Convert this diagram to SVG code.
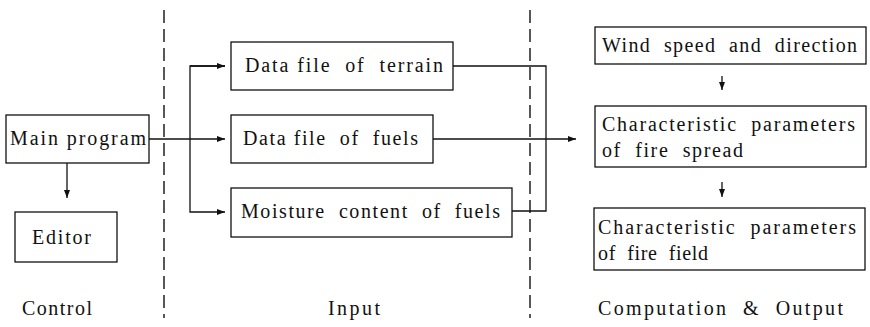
<svg xmlns="http://www.w3.org/2000/svg" width="870" height="327" viewBox="0 0 870 327">
<style>
.box{fill:#fff;stroke:#111;stroke-width:1.3}
.t{font-family:"Liberation Serif","DejaVu Serif",serif;font-size:20px;fill:#111;white-space:pre}
.ln{fill:none;stroke:#111;stroke-width:1.3}
.dash{fill:none;stroke:#111;stroke-width:1.4;stroke-dasharray:13 6}
</style>
<defs>
<marker id="ah" viewBox="0 0 8 6" refX="8" refY="3" markerWidth="8" markerHeight="6" markerUnits="userSpaceOnUse" orient="auto">
<path d="M0,0 L8,3 L0,6 z" fill="#111"/>
</marker>
</defs>
<rect width="870" height="327" fill="#fff"/>
<g id="dividers">
<line class="dash" x1="164" y1="10" x2="164" y2="318"/>
<line class="dash" x1="530" y1="10" x2="530" y2="318"/>
</g>
<g id="connectors">
<line class="ln" x1="149" y1="139" x2="225" y2="139" marker-end="url(#ah)"/>
<polyline class="ln" points="225,66 190,66 190,212 225,212" marker-end="url(#ah)"/>
<line class="ln" x1="190" y1="66" x2="225" y2="66" marker-end="url(#ah)"/>
<line class="ln" x1="67" y1="163" x2="67" y2="198" marker-end="url(#ah)"/>
<polyline class="ln" points="453,66 546,66 546,211 512,211"/>
<line class="ln" x1="433" y1="139" x2="576" y2="139" marker-end="url(#ah)"/>
<line class="ln" x1="722" y1="76" x2="722" y2="90" marker-end="url(#ah)"/>
<line class="ln" x1="722" y1="182" x2="722" y2="197" marker-end="url(#ah)"/>
</g>
<g id="main">
<rect class="box" x="6" y="115" width="143" height="48"/>
<text class="t" x="10" y="145" textLength="136" lengthAdjust="spacing">Main program</text>
</g>
<g id="editor">
<rect class="box" x="15" y="212" width="102" height="50"/>
<text class="t" x="32" y="244" textLength="59" lengthAdjust="spacing">Editor</text>
</g>
<g id="terrain">
<rect class="box" x="231" y="42" width="222" height="48"/>
<text class="t" x="245" y="72" textLength="198" lengthAdjust="spacing">Data file  of  terrain</text>
</g>
<g id="fuels">
<rect class="box" x="231" y="115" width="202" height="48"/>
<text class="t" x="243" y="145" textLength="175" lengthAdjust="spacing">Data file  of  fuels</text>
</g>
<g id="moisture">
<rect class="box" x="231" y="188" width="281" height="49"/>
<text class="t" x="241" y="218" textLength="259" lengthAdjust="spacing">Moisture  content  of  fuels</text>
</g>
<g id="wind">
<rect class="box" x="595" y="27" width="271" height="37"/>
<text class="t" x="602" y="52" textLength="255" lengthAdjust="spacing">Wind  speed  and  direction</text>
</g>
<g id="spread">
<rect class="box" x="595" y="106" width="271" height="61"/>
<text class="t" x="602" y="131" textLength="253" lengthAdjust="spacing">Characteristic  parameters</text>
<text class="t" x="602" y="157" textLength="141" lengthAdjust="spacing">of  fire  spread</text>
</g>
<g id="field">
<rect class="box" x="594" y="208" width="271" height="62"/>
<text class="t" x="598" y="234" textLength="258" lengthAdjust="spacing">Characteristic  parameters</text>
<text class="t" x="598" y="260" textLength="110" lengthAdjust="spacing">of  fire  field</text>
</g>
<g id="labels">
<text class="t" x="22" y="315" textLength="70" lengthAdjust="spacing">Control</text>
<text class="t" x="328" y="315" textLength="52" lengthAdjust="spacing">Input</text>
<text class="t" x="598" y="315" textLength="245" lengthAdjust="spacing">Computation  &amp;  Output</text>
</g>
</svg>
